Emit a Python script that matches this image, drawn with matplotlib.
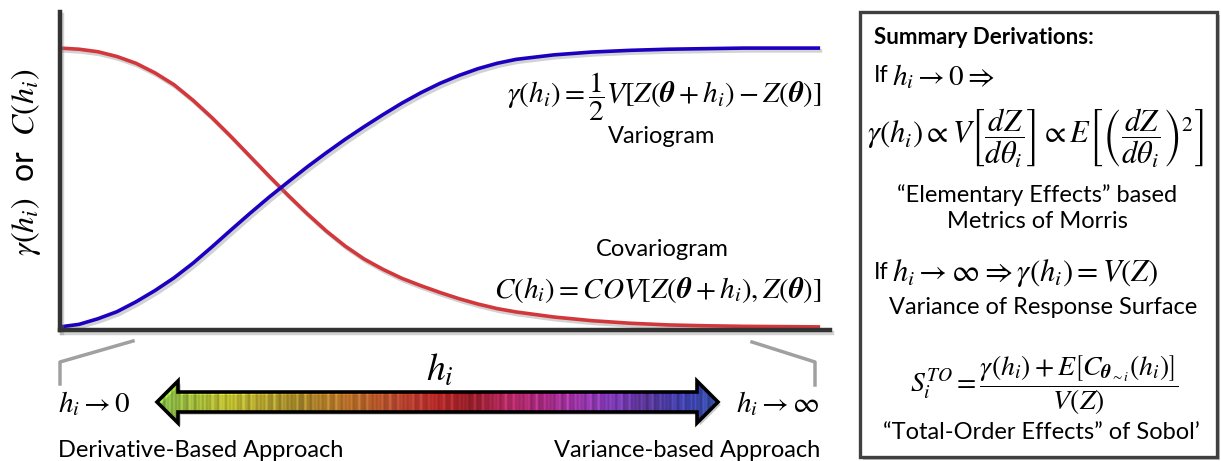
import numpy as np
import matplotlib.pyplot as plt
import matplotlib.patches as mpatches
import matplotlib.patheffects as pe
from matplotlib.colors import LinearSegmentedColormap

plt.rcParams['font.family'] = ['Lato', 'DejaVu Sans']
plt.rcParams['mathtext.fontset'] = 'stix'

# values (h from 0 to 10, curves normalised to sill = 1)
h = [0.0, 0.25, 0.5, 0.75, 1.0, 1.25, 1.5, 1.75, 2.0, 2.25, 2.5, 2.75, 3.0, 3.25,
     3.5, 3.75, 4.0, 4.25, 4.5, 4.75, 5.0, 5.25, 5.5, 5.75, 6.0, 6.5, 7.0, 7.5,
     8.0, 8.5, 9.0, 10.0]
variogram = [0.011, 0.02, 0.04, 0.065, 0.10, 0.14, 0.185, 0.237, 0.295, 0.355, 0.414,
             0.471, 0.525, 0.578, 0.628, 0.676, 0.721, 0.764, 0.805, 0.842, 0.875,
             0.903, 0.927, 0.946, 0.960, 0.976, 0.986, 0.992, 0.996, 0.998, 1.0, 1.0]
covariogram = [1.0, 0.996, 0.987, 0.970, 0.946, 0.912, 0.870, 0.815, 0.753, 0.686,
               0.616, 0.546, 0.478, 0.413, 0.352, 0.298, 0.252, 0.215, 0.183, 0.157,
               0.133, 0.111, 0.092, 0.076, 0.064, 0.046, 0.033, 0.024, 0.018, 0.015,
               0.013, 0.011]

arrow_colors = ['#96e444', '#bce030', '#ecea20', '#d8c020', '#c09818', '#e08a18',
                '#e06418', '#e03c20', '#e01818', '#b00818', '#e0186a', '#c81890',
                '#b828c8', '#9030e0', '#5a28b0', '#3838d0', '#2848c8']

W, H = 1221, 461
fig = plt.figure(figsize=(W / 100, H / 100), dpi=100)

shadow = [pe.SimpleLineShadow(offset=(1.5, -2), shadow_color='gray', alpha=0.35), pe.Normal()]

# main plot
ax = fig.add_axes([60 / W, (H - 330) / H, (830 - 60) / W, (330 - 12) / H])
ax.plot(h, covariogram, color='#d2373c', lw=2.6, solid_capstyle='butt', path_effects=shadow)
ax.plot(h, variogram, color='#1c00c0', lw=2.6, solid_capstyle='butt', path_effects=shadow)
ax.set_xlim(0, 10.13)
ax.set_ylim(0, 1.128)
for s in ['top', 'right']:
    ax.spines[s].set_visible(False)
for s in ['left', 'bottom']:
    ax.spines[s].set_linewidth(3.2)
    ax.spines[s].set_color('#333333')
    ax.spines[s].set_path_effects(shadow)
ax.set_xticks([])
ax.set_yticks([])
ax.set_ylabel(r'$\gamma(h_i)$  or  $C(h_i)$', fontsize=23)
ax.yaxis.set_label_coords(-0.022, 0.528)

# overlay in pixel coordinates for the annotations
ov = fig.add_axes([0, 0, 1, 1], facecolor='none')
ov.set_xlim(0, W)
ov.set_ylim(H, 0)
ov.axis('off')

ov.text(822, 97, r'$\gamma(h_i) = \dfrac{1}{2}V[Z(\boldsymbol{\theta} + h_i) - Z(\boldsymbol{\theta})]$',
        fontsize=21, ha='right', va='center')
ov.text(662, 136, 'Variogram', fontsize=17, ha='center', va='center')
ov.text(662, 249, 'Covariogram', fontsize=17, ha='center', va='center')
ov.text(822, 290, r'$C(h_i) = COV[Z(\boldsymbol{\theta} + h_i), Z(\boldsymbol{\theta})]$',
        fontsize=21, ha='right', va='center')

# brackets
ov.plot([133, 60, 60], [341, 362, 384], color='#a0a0a0', lw=2.5)
ov.plot([752, 815, 815], [342, 362, 385], color='#a0a0a0', lw=2.5)

ov.text(440, 370, r'$h_i$', fontsize=27, ha='center', va='center')
ov.text(58, 404, r'$h_i \rightarrow 0$', fontsize=21, ha='left', va='center')
ov.text(820, 404, r'$h_i \rightarrow \infty$', fontsize=21, ha='right', va='center')

# gradient double arrow
x0, x1, yc = 157, 718, 402
shaft, head, hl = 10, 21, 21
verts = [(x0, yc), (x0 + hl, yc - head), (x0 + hl, yc - shaft), (x1 - hl, yc - shaft),
         (x1 - hl, yc - head), (x1, yc), (x1 - hl, yc + head), (x1 - hl, yc + shaft),
         (x0 + hl, yc + shaft), (x0 + hl, yc + head)]
arrow = mpatches.Polygon(verts, closed=True, facecolor='none', edgecolor='black', lw=2.6,
                         joinstyle='miter', zorder=3,
                         path_effects=[pe.withSimplePatchShadow(offset=(2, -2), alpha=0.3)])
ov.add_patch(arrow)
cmap = LinearSegmentedColormap.from_list('rb', arrow_colors)
t = np.linspace(0, 1, 560)
rgb = cmap(t)[:, :3]
# streaky texture
streak = 0.13 * np.sin(t * 397) * np.sin(t * 61 + 1.3) + 0.07 * np.sin(t * 911)
rgb = np.clip(rgb * (1 + streak)[:, None] + np.clip(streak, 0, None)[:, None] * 0.6, 0, 1)
# slight vertical shading
rows = np.linspace(-1, 1, 40)
shade = 1 - 0.15 * rows ** 2
img_data = rgb[None, :, :] * shade[:, None, None]
img = ov.imshow(img_data, aspect='auto', extent=(x0, x1, yc + head, yc - head),
                interpolation='bilinear', zorder=2)
img.set_clip_path(arrow)

ov.text(58, 457, 'Derivative-Based Approach', fontsize=17, ha='left', va='baseline')
ov.text(820, 457, 'Variance-based Approach', fontsize=17, ha='right', va='baseline')

# summary box
box = mpatches.Rectangle((860, 12), 357, 445, facecolor='white', edgecolor='#404040', lw=2.4,
                         path_effects=[pe.withSimplePatchShadow(offset=(2, -2), alpha=0.35)])
ov.add_patch(box)
ov.text(874, 38, 'Summary Derivations:', fontsize=16, fontweight='bold', ha='left', va='center')
ov.text(874, 76, 'If', fontsize=17, ha='left', va='center')
ov.text(892, 77, r'$h_i \rightarrow 0 \Rightarrow$', fontsize=21, ha='left', va='center')
ov.text(1036, 138, r'$\gamma(h_i) \propto V\left[\dfrac{dZ}{d\theta_i}\right] \propto '
        r'E\left[\left(\dfrac{dZ}{d\theta_i}\right)^2\right]$',
        fontsize=22, ha='center', va='center')
ov.text(1037, 195, '\u201cElementary Effects\u201d based', fontsize=17, ha='center', va='center')
ov.text(1037, 221, 'Metrics of Morris', fontsize=17, ha='center', va='center')
ov.text(874, 272, 'If', fontsize=17, ha='left', va='center')
ov.text(892, 273, r'$h_i \rightarrow \infty \Rightarrow \gamma(h_i) = V(Z)$', fontsize=22,
        ha='left', va='center')
ov.text(1043, 307, 'Variance of Response Surface', fontsize=17, ha='center', va='center')
ov.text(1044, 385, r'$S_i^{TO} = \dfrac{\gamma(h_i) + E\left[C_{\boldsymbol{\theta}_{\sim i}}(h_i)\right]}{V(Z)}$',
        fontsize=20, ha='center', va='center')
ov.text(1041, 432, '\u201cTotal-Order Effects\u201d of Sobol\u2019', fontsize=17, ha='center',
        va='center')

fig.savefig('out.png', dpi=100)
